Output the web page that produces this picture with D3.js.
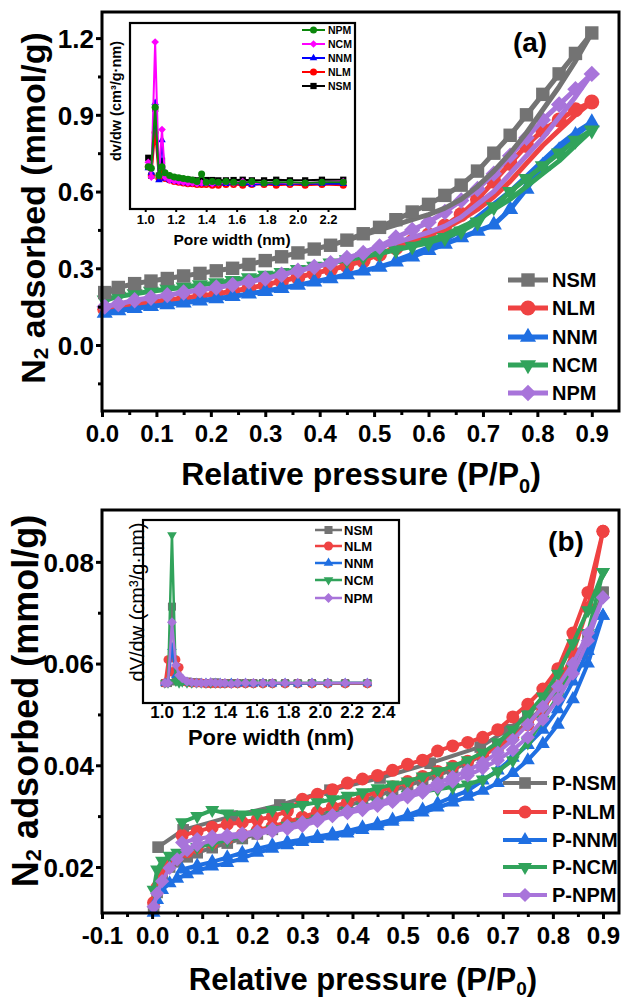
<!DOCTYPE html>
<html>
<head>
<meta charset="utf-8">
<script src="https://cdn.jsdelivr.net/npm/d3@7"></script>
<style>
body { margin: 0; background: #fff; }
text { font-family: "Liberation Sans", Arial, sans-serif; font-weight: bold; fill: #000; }
</style>
</head>
<body>
<svg id="fig" width="622" height="1000"></svg>
<script>
// ---------- data ----------
const names = ["NSM", "NLM", "NNM", "NCM", "NPM"];
const colors = ["#737373", "#ef4242", "#1f6fe2", "#31a35b", "#a874da"];
const shapes = ["square", "circle", "triUp", "triDown", "diamond"];

// panel (a): isotherms, relative pressure
const pAdsA = [0.005, 0.03, 0.06, 0.09, 0.12, 0.15, 0.18, 0.21, 0.24, 0.27, 0.30, 0.33, 0.36, 0.39, 0.42, 0.45,
  0.48, 0.51, 0.54, 0.57, 0.60, 0.63, 0.66, 0.69, 0.72, 0.75, 0.78, 0.81, 0.84, 0.87, 0.90];
const nsmAdsA = [0.205, 0.225, 0.24, 0.25, 0.26, 0.27, 0.28, 0.29, 0.30, 0.315, 0.33, 0.345, 0.36, 0.375, 0.39, 0.41,
  0.435, 0.46, 0.49, 0.52, 0.55, 0.585, 0.625, 0.68, 0.75, 0.82, 0.90, 0.98, 1.06, 1.14, 1.22];
const nlmAdsA = [0.14, 0.148, 0.158, 0.167, 0.175, 0.183, 0.192, 0.20, 0.21, 0.222, 0.235, 0.25, 0.265, 0.28, 0.295, 0.31,
  0.33, 0.355, 0.38, 0.405, 0.43, 0.465, 0.51, 0.57, 0.64, 0.71, 0.78, 0.84, 0.88, 0.92, 0.95];
const nnmAdsA = [0.125, 0.135, 0.143, 0.151, 0.158, 0.165, 0.173, 0.181, 0.19, 0.20, 0.21, 0.222, 0.234, 0.247, 0.26, 0.275,
  0.29, 0.305, 0.325, 0.345, 0.37, 0.395, 0.42, 0.445, 0.47, 0.53, 0.61, 0.70, 0.76, 0.82, 0.87];
const ncmAdsA = [0.175, 0.19, 0.20, 0.21, 0.218, 0.226, 0.235, 0.243, 0.252, 0.262, 0.272, 0.283, 0.295, 0.307, 0.32, 0.333,
  0.345, 0.358, 0.372, 0.386, 0.40, 0.42, 0.445, 0.48, 0.54, 0.60, 0.65, 0.70, 0.75, 0.80, 0.84];
const npmAdsA = [0.15, 0.16, 0.175, 0.185, 0.195, 0.205, 0.215, 0.225, 0.235, 0.248, 0.26, 0.275, 0.29, 0.305, 0.32, 0.34,
  0.36, 0.385, 0.42, 0.45, 0.48, 0.52, 0.565, 0.61, 0.67, 0.74, 0.81, 0.88, 0.94, 1.00, 1.06];
const pDesA = [0.90, 0.87, 0.84, 0.81, 0.78, 0.75, 0.72, 0.69, 0.66, 0.63, 0.60, 0.57, 0.54, 0.51, 0.48, 0.45];
const nsmDesA = [1.22, 1.11, 1.01, 0.92, 0.83, 0.75, 0.68, 0.62, 0.57, 0.535, 0.51, 0.49, 0.47, 0.45, 0.43, 0.41];
const nlmDesA = [0.95, 0.90, 0.84, 0.78, 0.71, 0.64, 0.58, 0.53, 0.49, 0.455, 0.43, 0.405, 0.38, 0.355];
const nnmDesA = [0.87, 0.83, 0.78, 0.72, 0.66, 0.60, 0.55, 0.50, 0.45, 0.41, 0.38, 0.355, 0.33];
const ncmDesA = [0.84, 0.78, 0.72, 0.67, 0.62, 0.57, 0.53, 0.49, 0.46, 0.43, 0.41, 0.39];
const npmDesA = [1.06, 0.97, 0.89, 0.81, 0.74, 0.67, 0.60, 0.55, 0.50, 0.465, 0.44, 0.42, 0.40, 0.385, 0.36];

// pore size insets (arbitrary units)
const wPore = [1.02, 1.04, 1.065, 1.09, 1.11, 1.13, 1.16, 1.19, 1.22, 1.25, 1.28, 1.31, 1.34, 1.37, 1.40, 1.44,
  1.48, 1.53, 1.58, 1.64, 1.70, 1.78, 1.86, 1.95, 2.05, 2.16, 2.30];
const insA_NSM = [0.22, 0.10, 0.55, 0.10, 0.20, 0.10, 0.09, 0.085, 0.08, 0.075, 0.072, 0.07, 0.068, 0.068, 0.07, 0.07,
  0.068, 0.068, 0.07, 0.072, 0.068, 0.068, 0.072, 0.068, 0.068, 0.072, 0.072];
const insA_NLM = [0.16, 0.10, 0.39, 0.08, 0.12, 0.08, 0.07, 0.06, 0.055, 0.05, 0.045, 0.045, 0.04, 0.04, 0.04, 0.035,
  0.035, 0.04, 0.04, 0.035, 0.04, 0.04, 0.035, 0.04, 0.035, 0.04, 0.035];
const insA_NNM = [0.15, 0.12, 0.59, 0.07, 0.34, 0.08, 0.07, 0.065, 0.06, 0.055, 0.05, 0.05, 0.05, 0.045, 0.05, 0.045,
  0.05, 0.045, 0.05, 0.045, 0.04, 0.045, 0.045, 0.045, 0.045, 0.045, 0.045];
const insA_NCM = [0.19, 0.09, 1.00, 0.10, 0.41, 0.09, 0.07, 0.065, 0.06, 0.055, 0.05, 0.05, 0.045, 0.05, 0.05, 0.045,
  0.05, 0.055, 0.05, 0.06, 0.05, 0.05, 0.055, 0.05, 0.05, 0.055, 0.06];
const insA_NPM = [0.16, 0.15, 0.56, 0.10, 0.16, 0.12, 0.10, 0.09, 0.085, 0.08, 0.075, 0.07, 0.06, 0.11, 0.055, 0.06,
  0.055, 0.06, 0.055, 0.05, 0.06, 0.05, 0.055, 0.055, 0.05, 0.055, 0.055];
const insANames = ["NPM", "NCM", "NNM", "NLM", "NSM"];
const insAColors = ["#0b870b", "#ff00ff", "#0000ff", "#ff0000", "#000000"];
const insAShapes = ["circle", "diamond", "triUp", "circle", "square"];

// panel (b)
const pAdsB = [0.003, 0.01, 0.02, 0.035, 0.05, 0.07, 0.09, 0.12, 0.15, 0.18, 0.21, 0.24, 0.27, 0.30, 0.33, 0.36, 0.39,
  0.42, 0.45, 0.48, 0.51, 0.54, 0.57, 0.60, 0.63, 0.66, 0.69, 0.72, 0.75, 0.78, 0.81, 0.84, 0.87, 0.90];
const nsmAdsB = [0.012, 0.015, 0.018, 0.020, 0.021, 0.022, 0.0228, 0.0238, 0.0247, 0.0256, 0.0265, 0.0274, 0.0283, 0.0292,
  0.0301, 0.031, 0.032, 0.033, 0.034, 0.035, 0.036, 0.037, 0.038, 0.0392, 0.0405, 0.042, 0.0438, 0.046, 0.0485, 0.0515,
  0.055, 0.059, 0.065, 0.074];
const nlmAdsB = [0.013, 0.016, 0.019, 0.021, 0.0222, 0.023, 0.0238, 0.0248, 0.0256, 0.0264, 0.0272, 0.028, 0.0288, 0.0298,
  0.0308, 0.0318, 0.0328, 0.0338, 0.0348, 0.0358, 0.0368, 0.0378, 0.0388, 0.0398, 0.0408, 0.042, 0.0435, 0.0455, 0.048,
  0.051, 0.0555, 0.062, 0.071, 0.086];
const nnmAdsB = [0.011, 0.0135, 0.0155, 0.0168, 0.0177, 0.0186, 0.0193, 0.0201, 0.0208, 0.0217, 0.0228, 0.0236, 0.0243,
  0.0249, 0.0255, 0.026, 0.0266, 0.0273, 0.028, 0.0289, 0.0298, 0.0307, 0.0317, 0.0327, 0.0338, 0.035, 0.0365, 0.0385,
  0.041, 0.0442, 0.048, 0.053, 0.060, 0.0694];
const ncmAdsB = [0.0155, 0.0195, 0.0212, 0.0222, 0.0228, 0.0234, 0.0239, 0.0246, 0.0253, 0.026, 0.0267, 0.0274, 0.0281,
  0.0288, 0.0295, 0.0302, 0.031, 0.0318, 0.0326, 0.0334, 0.0342, 0.0348, 0.0353, 0.0357, 0.0362, 0.0372, 0.0388, 0.041,
  0.0445, 0.049, 0.0535, 0.059, 0.066, 0.078];
const npmAdsB = [0.0122, 0.0148, 0.0172, 0.0198, 0.0215, 0.0233, 0.0243, 0.0253, 0.0257, 0.0261, 0.0265, 0.027, 0.0275,
  0.0281, 0.029, 0.030, 0.0306, 0.0312, 0.032, 0.0328, 0.0337, 0.0346, 0.0357, 0.0368, 0.038, 0.0394, 0.041, 0.043,
  0.0455, 0.049, 0.053, 0.058, 0.0645, 0.073];
const pDesB = [0.90, 0.87, 0.84, 0.81, 0.78, 0.75, 0.72, 0.69, 0.66, 0.63, 0.60, 0.57, 0.54, 0.51, 0.48, 0.45, 0.42, 0.39,
  0.36, 0.33, 0.30, 0.27, 0.24, 0.21, 0.18, 0.15, 0.12, 0.09, 0.06];
const nlmDesB = [0.086, 0.074, 0.066, 0.059, 0.055, 0.052, 0.0495, 0.047, 0.0455, 0.0445, 0.0438, 0.0428, 0.041, 0.0402,
  0.039, 0.038, 0.0373, 0.0365, 0.0352, 0.0343, 0.0333, 0.031, 0.0299, 0.0293, 0.0288, 0.0284, 0.0278, 0.027, 0.0262];
const nnmDesB = [0.0694, 0.0625, 0.0565, 0.051, 0.047, 0.044, 0.0415, 0.039, 0.037, 0.035, 0.0338, 0.0325, 0.0313, 0.0302,
  0.0293, 0.0285, 0.0278, 0.0271, 0.0265, 0.026, 0.0254, 0.0249, 0.0243, 0.0236, 0.0228, 0.0219, 0.021, 0.0203, 0.0195];
const ncmDesB = [0.078, 0.0705, 0.064, 0.058, 0.0535, 0.050, 0.047, 0.0445, 0.0425, 0.041, 0.0398, 0.0388, 0.0378, 0.0368,
  0.0362, 0.0355, 0.0347, 0.034, 0.0333, 0.0327, 0.0322, 0.0318, 0.0312, 0.0306, 0.0303, 0.0305, 0.0312, 0.030, 0.0288];
const npmDesB = [0.073, 0.066, 0.060, 0.0555, 0.0515, 0.048, 0.045, 0.0425, 0.0405, 0.039, 0.0377, 0.0365, 0.0354, 0.0344,
  0.0335, 0.0326, 0.0318, 0.031, 0.0302, 0.0295, 0.0288, 0.0281, 0.0275, 0.027, 0.0266, 0.0263, 0.026, 0.0255, 0.0248];
// P-NSM desorption has only a few points
const pDesNsmB = [0.90, 0.86, 0.80, 0.75, 0.71, 0.655, 0.555, 0.455, 0.355, 0.255, 0.16, 0.062, 0.012];
const nsmDesB = [0.074, 0.062, 0.0545, 0.050, 0.047, 0.0436, 0.0404, 0.0375, 0.0351, 0.0322, 0.030, 0.0273, 0.0239];

const insB_NSM = [0.05, 0.05, 0.54, 0.06, 0.08, 0.06, 0.06, 0.055, 0.055, 0.05, 0.05, 0.05, 0.055, 0.05, 0.05, 0.05,
  0.05, 0.05, 0.05, 0.05, 0.05, 0.05, 0.05, 0.05, 0.05, 0.05, 0.05];
const insB_NLM = [0.05, 0.20, 0.12, 0.20, 0.15, 0.06, 0.055, 0.05, 0.05, 0.05, 0.045, 0.045, 0.045, 0.045, 0.045, 0.045,
  0.045, 0.045, 0.045, 0.045, 0.045, 0.045, 0.045, 0.045, 0.045, 0.045, 0.045];
const insB_NNM = [0.05, 0.06, 0.28, 0.10, 0.07, 0.06, 0.055, 0.05, 0.05, 0.05, 0.05, 0.05, 0.05, 0.05, 0.045, 0.05,
  0.045, 0.05, 0.045, 0.05, 0.045, 0.05, 0.045, 0.05, 0.05, 0.05, 0.05];
const insB_NCM = [0.05, 0.05, 1.00, 0.06, 0.05, 0.055, 0.05, 0.05, 0.05, 0.05, 0.05, 0.05, 0.05, 0.05, 0.05, 0.05,
  0.05, 0.05, 0.05, 0.05, 0.05, 0.05, 0.05, 0.05, 0.05, 0.05, 0.05];
const insB_NPM = [0.05, 0.05, 0.44, 0.165, 0.10, 0.08, 0.06, 0.055, 0.05, 0.05, 0.05, 0.055, 0.05, 0.05, 0.05, 0.045,
  0.05, 0.05, 0.05, 0.05, 0.05, 0.05, 0.05, 0.05, 0.05, 0.05, 0.05];

const xTicksA = [0, 0.1, 0.2, 0.3, 0.4, 0.5, 0.6, 0.7, 0.8, 0.9];
const yTicksA = [0.0, 0.3, 0.6, 0.9, 1.2];
const xTicksB = [-0.1, 0, 0.1, 0.2, 0.3, 0.4, 0.5, 0.6, 0.7, 0.8, 0.9];
const yTicksB = [0.02, 0.04, 0.06, 0.08];
const poreTicksA = [1.0, 1.2, 1.4, 1.6, 1.8, 2.0, 2.2];
const poreTicksB = [1.0, 1.2, 1.4, 1.6, 1.8, 2.0, 2.2, 2.4];

// ---------- drawing ----------
const svg = d3.select("#fig");
// plain hyphen for negatives, like the original
const fmt1 = d => d3.format(".1f")(d).replace("\u2212", "-");
const fmt2 = d => d3.format(".2f")(d).replace("\u2212", "-");

function symPath(shape, s) {
  if (shape === "circle") return d3.symbol(d3.symbolCircle, Math.PI * s * s / 4)();
  if (shape === "square") return d3.symbol(d3.symbolSquare, s * s * 0.8)();
  if (shape === "diamond") return d3.symbol(d3.symbolSquare, s * s * 0.6)();
  return d3.symbol(d3.symbolTriangle, s * s * 0.5)();
}
function symRot(shape) { return shape === "diamond" ? 45 : (shape === "triDown" ? 180 : 0); }

function drawSeries(g, x, y, ps, vs, color, shape, size, lw, withMarks) {
  const pts = vs.map((v, i) => [ps[i], v]);
  g.append("path").datum(pts)
    .attr("d", d3.line().x(d => x(d[0])).y(d => y(d[1])))
    .attr("fill", "none").attr("stroke", color).attr("stroke-width", lw)
    .attr("stroke-linejoin", "round");
  if (!withMarks) return;
  g.selectAll(null).data(pts).enter().append("path")
    .attr("d", symPath(shape, size))
    .attr("transform", d => `translate(${x(d[0])},${y(d[1])}) rotate(${symRot(shape)})`)
    .attr("fill", color);
}

function legend(g, items, x0, x1, xt, ys, size, lw, fs) {
  items.forEach((it, i) => {
    g.append("line").attr("x1", x0).attr("x2", x1).attr("y1", ys[i]).attr("y2", ys[i])
      .attr("stroke", it.color).attr("stroke-width", lw);
    g.append("path").attr("d", symPath(it.shape, size))
      .attr("transform", `translate(${(x0 + x1) / 2},${ys[i]}) rotate(${symRot(it.shape)})`)
      .attr("fill", it.color);
    g.append("text").attr("x", xt).attr("y", ys[i]).attr("dy", "0.36em")
      .style("font-size", fs + "px").text(it.name);
  });
}

function mainAxes(g, x, y, box, xt, yt, xMinor, yMinor, xFmt, yFmt) {
  const ax = g.append("g").attr("transform", `translate(0,${box.bottom})`)
    .call(d3.axisBottom(x).tickValues(xt).tickFormat(xFmt).tickSize(6).tickSizeOuter(0));
  ax.selectAll("text").attr("y", 31).attr("dy", 0).style("font-size", "24px");
  g.append("g").attr("transform", `translate(0,${box.bottom})`)
    .call(d3.axisBottom(x).tickValues(xMinor).tickFormat("").tickSize(4).tickSizeOuter(0))
    .select(".domain").remove();
  const ay = g.append("g").attr("transform", `translate(${box.left},0)`)
    .call(d3.axisLeft(y).tickValues(yt).tickFormat(yFmt).tickSize(6).tickSizeOuter(0));
  ay.selectAll("text").attr("x", -8).attr("dy", "0.36em").style("font-size", "26px");
  g.append("g").attr("transform", `translate(${box.left},0)`)
    .call(d3.axisLeft(y).tickValues(yMinor).tickFormat("").tickSize(4).tickSizeOuter(0))
    .select(".domain").remove();
  g.selectAll(".tick line").attr("stroke", "#000").attr("stroke-width", 3);
  g.selectAll(".domain").remove();
  g.selectAll("text").attr("font-family", null);
  g.append("rect").attr("x", box.left).attr("y", box.top)
    .attr("width", box.right - box.left).attr("height", box.bottom - box.top)
    .attr("fill", "none").attr("stroke", "#000").attr("stroke-width", 3);
}

function inset(g, box, xDom, yDom, ticks, tfs, series, lw, ms) {
  const x = d3.scaleLinear().domain(xDom).range([box.left, box.right]);
  const y = d3.scaleLinear().domain(yDom).range([box.bottom, box.top]);
  g.append("rect").attr("x", box.left).attr("y", box.top)
    .attr("width", box.right - box.left).attr("height", box.bottom - box.top).attr("fill", "#fff");
  series.forEach(s => drawSeries(g, x, y, wPore, s.vals, s.color, s.shape, ms, lw, true));
  const ax = g.append("g").attr("transform", `translate(0,${box.bottom})`)
    .call(d3.axisBottom(x).tickValues(ticks).tickFormat(fmt1).tickSize(3).tickSizeOuter(0));
  ax.selectAll("text").attr("y", 15).attr("dy", 0).style("font-size", tfs + "px");
  ax.selectAll(".tick line").attr("stroke-width", 2);
  ax.select(".domain").remove();
  ax.selectAll("text").attr("font-family", null);
  g.append("rect").attr("x", box.left).attr("y", box.top)
    .attr("width", box.right - box.left).attr("height", box.bottom - box.top)
    .attr("fill", "none").attr("stroke", "#000").attr("stroke-width", 2.2);
}

function yTitle(g, xb, yc, fs, sub, rest) {
  const t = g.append("text").attr("transform", `translate(${xb},${yc}) rotate(-90)`)
    .attr("text-anchor", "middle").style("font-size", fs + "px");
  t.append("tspan").text("N");
  t.append("tspan").style("font-size", Math.round(fs * 0.62) + "px").attr("dy", 3).text(sub);
  t.append("tspan").attr("dy", -3).text(rest);
}
function xTitle(g, xc, yb, fs, sh) {
  const t = g.append("text").attr("x", xc).attr("y", yb).attr("text-anchor", "middle")
    .style("font-size", fs + "px");
  t.append("tspan").text("Relative pressure (P/P");
  t.append("tspan").style("font-size", Math.round(fs * 0.62) + "px").attr("dy", sh).text("0");
  t.append("tspan").attr("dy", -sh).text(")");
}

// ===== panel (a) =====
const boxA = { left: 102, right: 619, top: 12, bottom: 411 };
const xA = d3.scaleLinear().domain([0, 0.95]).range([boxA.left, boxA.right]);
const yA = d3.scaleLinear().domain([-0.258, 1.302]).range([boxA.bottom, boxA.top]);
const gA = svg.append("g");
const adsA = [nsmAdsA, nlmAdsA, nnmAdsA, ncmAdsA, npmAdsA];
const desA = [nsmDesA, nlmDesA, nnmDesA, ncmDesA, npmDesA];
[1, 2, 3, 4, 0].forEach(i => {
  drawSeries(gA, xA, yA, pDesA, desA[i], colors[i], shapes[i], 15, 5, false);
  drawSeries(gA, xA, yA, pAdsA, adsA[i], colors[i], shapes[i], 15, 5, true);
});
mainAxes(gA, xA, yA, boxA, xTicksA, yTicksA,
  [0.05, 0.15, 0.25, 0.35, 0.45, 0.55, 0.65, 0.75, 0.85],
  [-0.15, 0.15, 0.45, 0.75, 1.05], fmt1, fmt1);

inset(gA, { left: 130, right: 355, top: 23, bottom: 209 }, [0.90, 2.377], [-0.125, 1.128], poreTicksA, 13,
  [4, 3, 2, 1, 0].map(i => ({ vals: [insA_NPM, insA_NCM, insA_NNM, insA_NLM, insA_NSM][i],
    color: insAColors[i], shape: insAShapes[i] })), 2, 7);
gA.append("text").attr("x", 232).attr("y", 245).attr("text-anchor", "middle")
  .style("font-size", "15.5px").text("Pore width (nm)");
gA.append("text").attr("transform", "translate(121,101) rotate(-90)").attr("text-anchor", "middle")
  .style("font-size", "14.5px").text("dv/dw (cm³/g·nm)");
legend(gA, insANames.map((n, i) => ({ name: n, color: insAColors[i], shape: insAShapes[i] })),
  302, 325, 328, [30, 44, 58, 72, 86], 7, 2, 10.5);

legend(gA, names.map((n, i) => ({ name: n, color: colors[i], shape: shapes[i] })),
  508, 548, 552, [280, 308, 337, 365, 393], 15, 5, 20);
gA.append("text").attr("x", 530).attr("y", 52).attr("text-anchor", "middle")
  .style("font-size", "28px").text("(a)");
yTitle(gA, 45, 208, 34, "2", " adsorbed (mmol/g)");
xTitle(gA, 361, 485, 32, 8);

// ===== panel (b) =====
const boxB = { left: 102, right: 619, top: 510, bottom: 913 };
const xB = d3.scaleLinear().domain([-0.1, 0.932]).range([boxB.left, boxB.right]);
const yB = d3.scaleLinear().domain([0.01095, 0.0902]).range([boxB.bottom, boxB.top]);
const gB = svg.append("g");
const adsB = [nsmAdsB, nlmAdsB, nnmAdsB, ncmAdsB, npmAdsB];
const desB = [nsmDesB, nlmDesB, nnmDesB, ncmDesB, npmDesB];
[0, 1, 2, 3, 4].forEach(i => {
  drawSeries(gB, xB, yB, pAdsB, adsB[i], colors[i], shapes[i], 13, 4, true);
  drawSeries(gB, xB, yB, i === 0 ? pDesNsmB : pDesB, desB[i], colors[i], shapes[i], 13, 4, true);
});
mainAxes(gB, xB, yB, boxB, xTicksB, yTicksB,
  [-0.05, 0.05, 0.15, 0.25, 0.35, 0.45, 0.55, 0.65, 0.75, 0.85],
  [0.03, 0.05, 0.07], fmt1, fmt2);

inset(gB, { left: 143, right: 399, top: 520, bottom: 703 }, [0.882, 2.5], [-0.078, 1.096], poreTicksB, 17,
  [0, 1, 2, 3, 4].map(i => ({ vals: [insB_NSM, insB_NLM, insB_NNM, insB_NCM, insB_NPM][i],
    color: colors[i], shape: shapes[i] })), 2.5, 9);
gB.append("text").attr("x", 271).attr("y", 745).attr("text-anchor", "middle")
  .style("font-size", "22px").text("Pore width (nm)");
gB.append("text").attr("transform", "translate(144,602) rotate(-90)").attr("text-anchor", "middle")
  .style("font-size", "20px").style("font-weight", "normal").text("dV/dw (cm³/g·nm)");
legend(gB, names.map((n, i) => ({ name: n, color: colors[i], shape: shapes[i] })),
  315, 342, 344, [530, 546, 563, 580, 598], 9, 2.5, 13);

legend(gB, names.map((n, i) => ({ name: "P-" + n, color: colors[i], shape: shapes[i] })),
  503, 547, 552, [783, 812, 840, 867, 895], 13, 4, 20);
gB.append("text").attr("x", 566).attr("y", 551).attr("text-anchor", "middle")
  .style("font-size", "28px").text("(b)");
yTitle(gB, 38, 701, 36, "2", " adsorbed (mmol/g)");
xTitle(gB, 363, 990, 31, 5);
</script>
</body>
</html>
